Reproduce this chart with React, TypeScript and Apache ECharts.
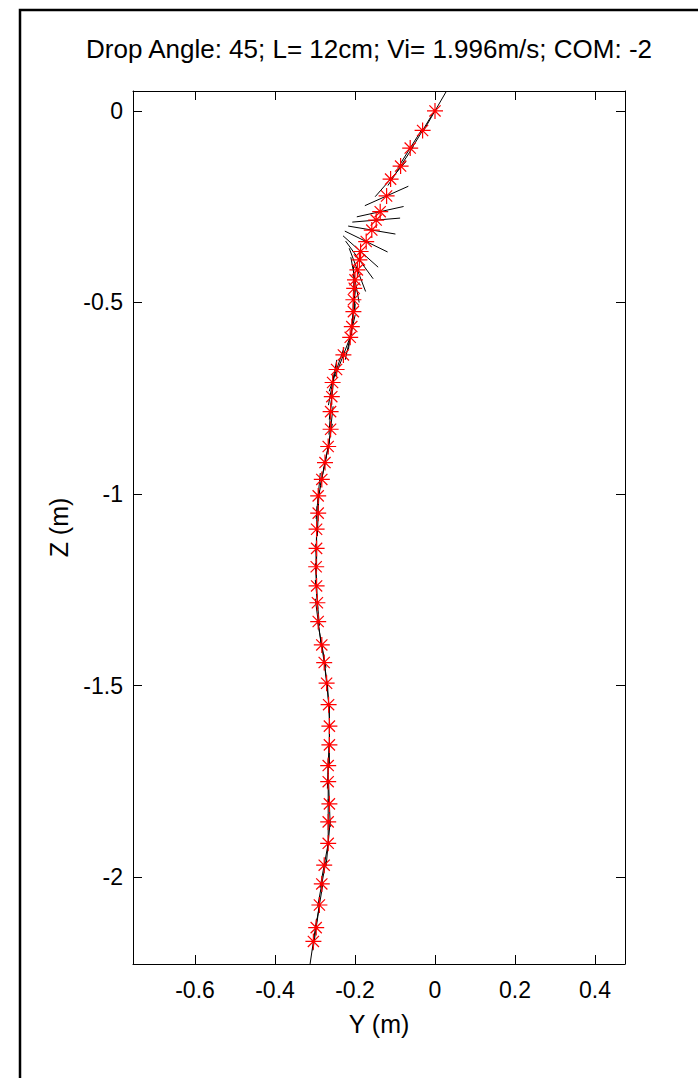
import React, { useEffect, useRef } from 'react';
import * as echarts from 'echarts';

const titleText = 'Drop Angle: 45; L= 12cm; Vi= 1.996m/s; COM: -2';
const xName = 'Y (m)';
const yName = 'Z (m)';

// lateral position (m) of each tracked point
const markerY = [
  0.0, -0.031, -0.062, -0.086, -0.111, -0.121, -0.137, -0.147, -0.158, -0.172,
  -0.186, -0.189, -0.194, -0.2, -0.202, -0.204, -0.204, -0.208, -0.212, -0.229,
  -0.246, -0.256, -0.258, -0.261, -0.261, -0.267, -0.275, -0.283, -0.292, -0.292,
  -0.296, -0.296, -0.297, -0.296, -0.294, -0.292, -0.283, -0.277, -0.271, -0.266,
  -0.264, -0.264, -0.267, -0.267, -0.264, -0.267, -0.267, -0.277, -0.283, -0.289,
  -0.297, -0.304,
];
// vertical position (m) of each tracked point
const markerZ = [
  0.0, -0.051, -0.097, -0.144, -0.178, -0.222, -0.263, -0.285, -0.311, -0.341,
  -0.367, -0.389, -0.415, -0.441, -0.463, -0.493, -0.524, -0.563, -0.591, -0.637,
  -0.675, -0.709, -0.746, -0.785, -0.831, -0.876, -0.918, -0.962, -1.005, -1.05,
  -1.092, -1.142, -1.19, -1.24, -1.284, -1.333, -1.394, -1.44, -1.494, -1.55,
  -1.606, -1.655, -1.709, -1.751, -1.809, -1.856, -1.912, -1.969, -2.018, -2.073,
  -2.132, -2.168,
];
// orientation of the body (deg) at each point
const stickAngleDeg = [
  61, 60, 59, 58, 50, 25, 13, 5, -10, -27,
  -43, -55, -70, -80, -88, 88, 85, 82, 78, 70,
  72, 80, 84, 86, 84, 80, 79, 80, 85, 88,
  89, 90, 91, 93, 95, 97, 100, 98, 96, 93,
  90, 90, 88, 90, 92, 90, 85, 80, 80, 81,
  82, 82,
];
const stickLength = 0.12; // L = 12 cm

const xRange = [-0.755, 0.475];
const zRange = [-2.227, 0.052];

export default function App() {
  const ref = useRef<HTMLDivElement>(null);
  useEffect(() => {
    const chart = echarts.init(ref.current!, null, { renderer: 'svg' });
    const font = '"Liberation Sans", Arial, Helvetica, sans-serif';
    const points = markerY.map((y, i) => [y, markerZ[i]]);
    const sticks = markerY.map((y, i) => [y, markerZ[i], stickAngleDeg[i]]);
    const axisLine = { show: true, onZero: false, lineStyle: { color: '#000', width: 1 } };
    const axisTick = { show: true, inside: true, length: 9, lineStyle: { color: '#000', width: 1 } };
    const label = { color: '#000', fontSize: 23, fontFamily: font, showMinLabel: false, showMaxLabel: false };
    chart.setOption({
      animation: false,
      backgroundColor: '#fff',
      grid: { left: 133, right: 73, top: 91, bottom: 114, containLabel: false },
      graphic: [
        {
          type: 'rect', silent: true, z: -10,
          shape: { x: 20, y: 10, width: 900, height: 1300 },
          style: { fill: 'none', stroke: '#000', lineWidth: 2.5 },
        },
        {
          type: 'text', x: 369, y: 49,
          style: { text: titleText, fill: '#000', fontSize: 26, fontFamily: font, textAlign: 'center', textVerticalAlign: 'middle' },
        },
      ],
      xAxis: [
        {
          type: 'value', min: xRange[0], max: xRange[1], position: 'bottom',
          name: xName, nameLocation: 'middle', nameGap: 47,
          nameTextStyle: { color: '#000', fontSize: 25, fontFamily: font },
          axisLine, axisTick, splitLine: { show: false },
          axisLabel: { ...label, margin: 14 },
        },
        {
          type: 'value', min: xRange[0], max: xRange[1], position: 'top',
          axisLine, axisTick, splitLine: { show: false }, axisLabel: { show: false },
        },
      ],
      yAxis: [
        {
          type: 'value', min: zRange[0], max: zRange[1], position: 'left',
          name: yName, nameLocation: 'middle', nameGap: 62, nameRotate: 90,
          nameTextStyle: { color: '#000', fontSize: 25, fontFamily: font },
          axisLine, axisTick, splitLine: { show: false },
          axisLabel: { ...label, margin: 10 },
        },
        {
          type: 'value', min: zRange[0], max: zRange[1], position: 'right',
          axisLine, axisTick, splitLine: { show: false }, axisLabel: { show: false },
        },
      ],
      series: [
        {
          type: 'custom', xAxisIndex: 0, yAxisIndex: 0, clip: true,
          data: sticks, encode: { x: 0, y: 1 },
          renderItem: (params: any, api: any) => {
            const x = api.value(0);
            const z = api.value(1);
            const a = (api.value(2) * Math.PI) / 180;
            const h = stickLength / 2;
            const p1 = api.coord([x - h * Math.cos(a), z - h * Math.sin(a)]);
            const p2 = api.coord([x + h * Math.cos(a), z + h * Math.sin(a)]);
            return {
              type: 'line',
              shape: { x1: p1[0], y1: p1[1], x2: p2[0], y2: p2[1] },
              style: { stroke: '#000', lineWidth: 1 },
            };
          },
        },
        {
          type: 'scatter', xAxisIndex: 0, yAxisIndex: 0,
          data: points,
          symbol: 'path://M1,0L1,2M0,1L2,1M0.3,0.3L1.7,1.7M0.3,1.7L1.7,0.3',
          symbolSize: 16,
          itemStyle: { color: '#ff0000', borderColor: '#ff0000', borderWidth: 1.2, opacity: 1 },
          z: 3,
        },
      ],
    });
    return () => chart.dispose();
  }, []);
  return (
    <div
      ref={ref}
      style={{ position: 'absolute', left: 0, top: 0, width: 698, height: 1078, background: '#fff' }}
    />
  );
}
